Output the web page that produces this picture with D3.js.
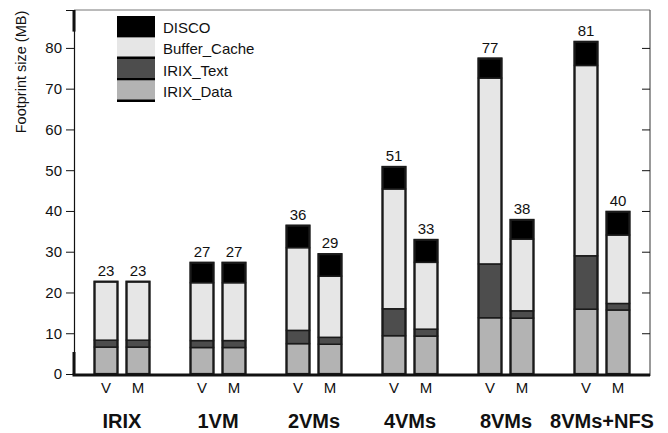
<!DOCTYPE html>
<html><head><meta charset="utf-8">
<script src="https://cdn.jsdelivr.net/npm/d3@7"></script>
<style>
html,body{margin:0;padding:0;background:#fff;}
text{font-family:"Liberation Sans",Arial,Helvetica,sans-serif;}
</style>
</head><body>
<svg id="chart" width="668" height="433"></svg>
<script>
const groups = ["IRIX","1VM","2VMs","4VMs","8VMs","8VMs+NFS"];
const variants = ["V","M"];
const seriesNames = ["IRIX_Data","IRIX_Text","Buffer_Cache","DISCO"];
const seriesColors = ["#b3b3b3","#4d4d4d","#e6e6e6","#000000"];
// values per bar, order: IRIX V, IRIX M, 1VM V, 1VM M, ...
const irixData   = [6.6, 6.6, 6.5, 6.5, 7.45, 7.3, 9.4, 9.3, 13.8, 13.7, 15.9, 15.7];
const irixText   = [1.7, 1.7, 1.7, 1.7, 3.25, 1.7, 6.6, 1.7, 13.2, 1.8, 13.1, 1.6];
const bufferCache= [14.35,14.35,14.2,14.2,20.3, 15.0, 29.4,16.4, 45.6, 17.6, 46.7, 16.8];
const disco      = [0, 0, 4.9, 4.9, 5.4, 5.4, 5.4, 5.5, 4.8, 4.7, 5.8, 5.7];
const totalLabels= ["23","23","27","27","36","29","51","33","77","38","81","40"];
const yTicks = [0,10,20,30,40,50,60,70,80];

(function(){
const svg = d3.select("#chart");
const mLeft = 74, mRight = 650, mTop = 10, mBottom = 374;
const y = d3.scaleLinear().domain([0, 89.3]).range([mBottom, mTop]);
const xg = d3.scaleBand().domain(groups).range([mLeft, mRight]).paddingInner(0).paddingOuter(0);
const xv = d3.scalePoint().domain(variants).range([-16, 16]);
const barW = 23;

const bars = [];
groups.forEach((g, gi) => variants.forEach((v, vi) => {
  const i = gi * 2 + vi;
  bars.push({g, v, i, vals: [irixData[i], irixText[i], bufferCache[i], disco[i]], label: totalLabels[i]});
}));

// frame
svg.append("line").attr("x1", mLeft).attr("x2", mRight).attr("y1", mTop).attr("y2", mTop)
  .attr("stroke", "#777").attr("stroke-width", 1);
svg.append("line").attr("x1", mRight).attr("x2", mRight).attr("y1", mTop).attr("y2", mBottom + 2)
  .attr("stroke", "#555").attr("stroke-width", 1.2);

// left axis
const yAxis = d3.axisLeft(y).tickValues(yTicks).tickSize(8).tickPadding(4).tickFormat(d3.format("d"));
const ga = svg.append("g").attr("transform", `translate(${mLeft},0)`).call(yAxis);
ga.select(".domain").attr("stroke", "#111").attr("stroke-width", 1.2);
ga.selectAll(".tick line").attr("stroke", "#111").attr("stroke-width", 1);
ga.selectAll(".tick text").attr("font-size", 15).attr("fill", "#111")
  .style("font-family", "'Liberation Sans',Arial,sans-serif");
// thick segments on left axis
svg.append("line").attr("x1", mLeft).attr("x2", mLeft).attr("y1", mTop).attr("y2", y(84.0))
  .attr("stroke", "#111").attr("stroke-width", 3);
svg.append("line").attr("x1", mLeft).attr("x2", mLeft).attr("y1", y(5.4)).attr("y2", mBottom)
  .attr("stroke", "#111").attr("stroke-width", 3);

// right ticks
const ra = svg.append("g").attr("transform", `translate(${mRight},0)`)
  .call(d3.axisLeft(y).tickValues(yTicks.filter(d => d > 0)).tickSize(8).tickFormat(""));
ra.select(".domain").remove();
ra.selectAll(".tick line").attr("stroke", "#111").attr("stroke-width", 1).attr("x2", -8);

// y title
svg.append("text").attr("transform", `translate(26,72) rotate(-90)`).attr("text-anchor", "middle")
  .attr("font-size", 14.5).attr("fill", "#111").text("Footprint size (MB)");

// bars
const bg = svg.append("g");
bars.forEach(b => {
  const cx = xg(b.g) + xg.bandwidth() / 2 + xv(b.v);
  const x0 = cx - barW / 2;
  let acc = 0;
  b.vals.forEach((val, si) => {
    if (val <= 0) return;
    const y0 = y(acc), y1 = y(acc + val);
    bg.append("rect").attr("x", x0).attr("y", y1).attr("width", barW).attr("height", y0 - y1)
      .attr("fill", seriesColors[si]).attr("stroke", "#1a1a1a").attr("stroke-width", 1.5);
    acc += val;
  });
  bg.append("rect").attr("x", x0).attr("y", y(acc)).attr("width", barW).attr("height", y(0) - y(acc))
    .attr("fill", "none").attr("stroke", "#1a1a1a").attr("stroke-width", 2.2);
  bg.append("text").attr("x", cx).attr("y", y(acc) - 6).attr("text-anchor", "middle")
    .attr("font-size", 15).attr("fill", "#111").text(b.label);
  bg.append("text").attr("x", cx).attr("y", 393).attr("text-anchor", "middle")
    .attr("font-size", 15).attr("fill", "#111").text(b.v);
});

// bottom axis line
svg.append("line").attr("x1", mLeft - 1.5).attr("x2", mRight).attr("y1", mBottom + 1).attr("y2", mBottom + 1)
  .attr("stroke", "#111").attr("stroke-width", 3);

// group labels
svg.selectAll(".glabel").data(groups).enter().append("text")
  .attr("x", d => xg(d) + xg.bandwidth() / 2).attr("y", 428)
  .attr("text-anchor", "middle").attr("font-size", 20).attr("font-weight", "bold").attr("fill", "#111")
  .text(d => d);

// legend
const legOrder = [3, 2, 1, 0];
const lg = svg.append("g");
legOrder.forEach((si, k) => {
  const ly = 16 + k * 21.5;
  lg.append("rect").attr("x", 117).attr("y", ly).attr("width", 38).attr("height", 21.5).attr("fill", seriesColors[si]);
  lg.append("rect").attr("x", 117).attr("y", ly + 19).attr("width", 38).attr("height", 2.5).attr("fill", "#000");
  lg.append("text").attr("x", 163).attr("y", ly + 16.5).attr("font-size", 15).attr("fill", "#111").text(seriesNames[si]);
});
})();
</script>
</body></html>
